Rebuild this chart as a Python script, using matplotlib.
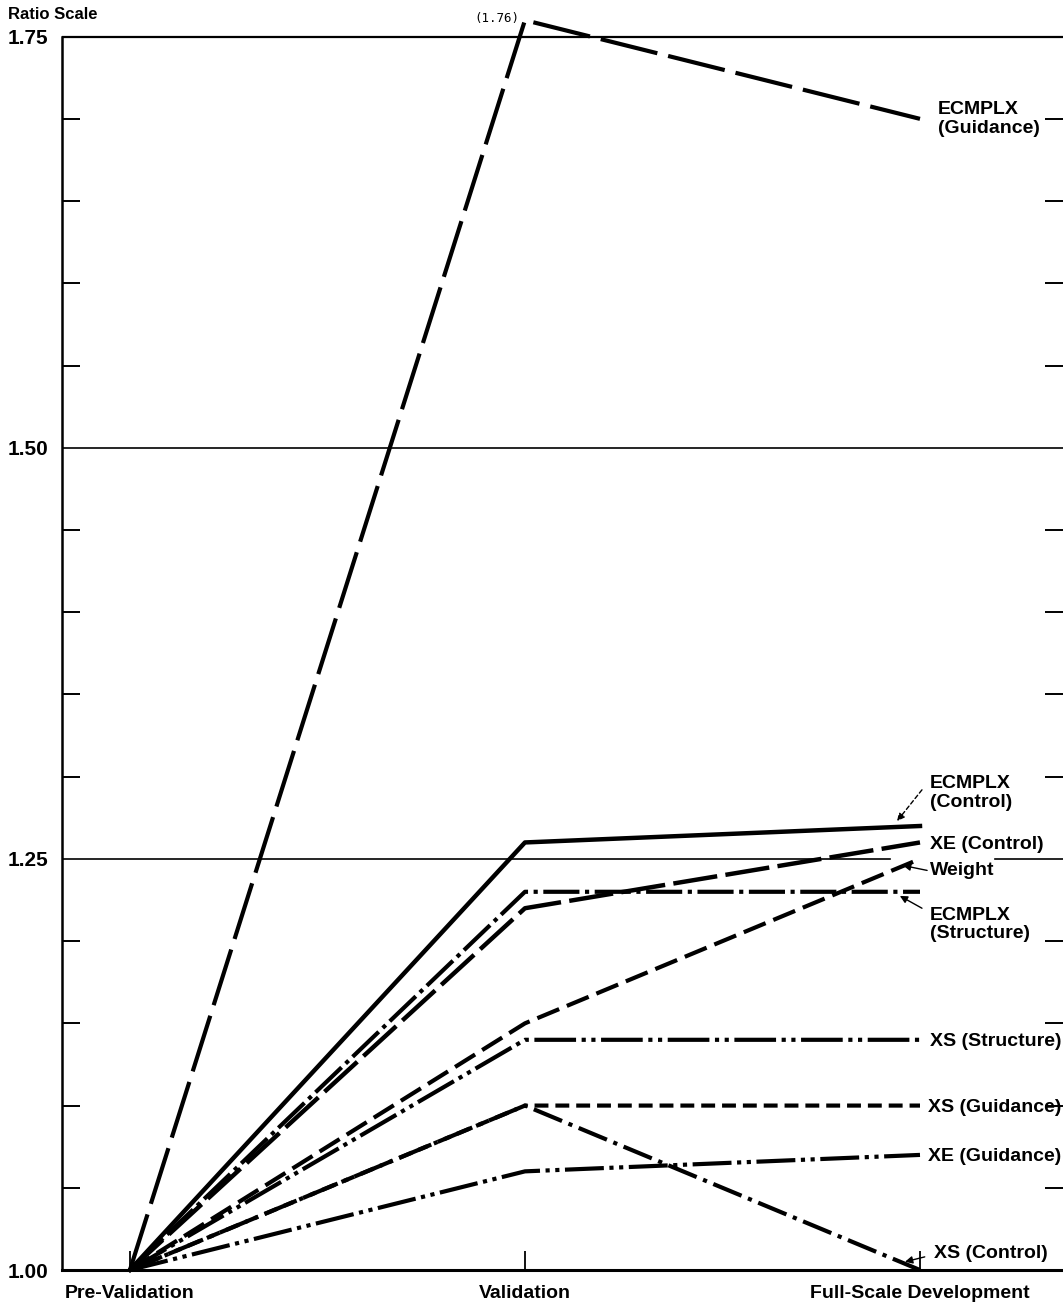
import matplotlib
matplotlib.use("Agg")
import matplotlib.pyplot as plt
from matplotlib.ticker import FixedLocator, NullFormatter

plt.rcParams['font.family'] = ['Liberation Sans', 'DejaVu Sans']
plt.rcParams['lines.scale_dashes'] = False

stages = ["Pre-Validation", "Validation", "Full-Scale Development"]

ecmplx_guidance = [1.00, 1.76, 1.70]
ecmplx_control = [1.00, 1.26, 1.27]
xe_control = [1.00, 1.22, 1.26]
weight = [1.00, 1.15, 1.25]
ecmplx_structure = [1.00, 1.23, 1.23]
xs_structure = [1.00, 1.14, 1.14]
xs_guidance = [1.00, 1.10, 1.10]
xs_control = [1.00, 1.10, 1.00]
xe_guidance = [1.00, 1.06, 1.07]

major_y = [1.00, 1.25, 1.50, 1.75]
major_y_labels = ["1.00", "1.25", "1.50", "1.75"]
minor_y = [1.05, 1.10, 1.15, 1.20, 1.30, 1.35, 1.40, 1.45,
           1.55, 1.60, 1.65, 1.70]

# series, line width, dash pattern (None = solid)
series = [
    (ecmplx_guidance, 3.0, (42, 8)),
    (ecmplx_control, 3.2, None),
    (xe_control, 3.2, (32, 6)),
    (weight, 3.0, (17, 6)),
    (ecmplx_structure, 3.0, (26, 4, 3, 4)),
    (xs_structure, 3.0, (30, 4, 3, 4, 3, 4)),
    (xs_guidance, 3.0, (10, 5)),
    (xs_control, 3.0, (22, 5, 3, 5)),
    (xe_guidance, 3.0, (28, 4, 3, 4, 3, 4)),
]

fig = plt.figure(figsize=(10.63, 13.15), dpi=100)
ax = fig.add_axes([0.0583, 0.0342, 1 - 0.0583, 0.9567])

x = list(range(len(stages)))
for vals, lw, dash in series:
    line, = ax.plot(x, vals, color="black", lw=lw, zorder=3, clip_on=False)
    if dash is not None:
        line.set_dashes(dash)

ax.set_xlim(-0.172, 2.362)
ax.set_ylim(1.00, 1.765)

# grid lines
ax.axhline(1.75, color="black", lw=1.6, zorder=2)
ax.axhline(1.50, color="black", lw=1.2, zorder=2)
ax.axhline(1.25, xmax=0.827, color="black", lw=1.2, zorder=2)
ax.axhline(1.25, xmin=0.932, color="black", lw=1.2, zorder=2)

for side in ["top", "right"]:
    ax.spines[side].set_visible(False)
ax.spines["left"].set_bounds(1.00, 1.75)
ax.spines["left"].set_linewidth(1.8)
ax.spines["bottom"].set_linewidth(2.2)

ax.set_xticks(x)
ax.set_xticklabels(stages, fontsize=14, fontweight="bold")
ax.tick_params(axis="x", direction="in", length=14, width=1.3, pad=11)

ax.yaxis.set_major_locator(FixedLocator(major_y))
ax.set_yticklabels(major_y_labels, fontsize=15, fontweight="bold")
ax.yaxis.set_minor_locator(FixedLocator(minor_y))
ax.yaxis.set_minor_formatter(NullFormatter())
ax.tick_params(axis="y", which="major", length=0, pad=10)
ax.tick_params(axis="y", which="minor", direction="in", length=13,
               width=1.4, left=True, right=True)

fig.text(0.0075, 0.989, "Ratio Scale", fontsize=12, fontweight="bold",
         va="center", ha="left")

ax.text(0.985, 1.761, "(1.76)", fontsize=9, family="DejaVu Sans Mono",
        ha="right", va="center")

lab = dict(fontsize=14, fontweight="bold", ha="left", va="center",
           linespacing=1.1)
lx = 2.025
ax.text(lx + 0.02, 1.700, "ECMPLX\n(Guidance)", **lab)
ax.text(lx, 1.290, "ECMPLX\n(Control)", **lab)
ax.text(lx, 1.259, "XE (Control)", **lab)
ax.text(lx, 1.243, "Weight", **lab)
ax.text(lx, 1.210, "ECMPLX\n(Structure)", **lab)
ax.text(lx, 1.139, "XS (Structure)", **lab)
ax.text(lx - 0.005, 1.099, "XS (Guidance)", **lab)
ax.text(lx - 0.005, 1.069, "XE (Guidance)", **lab)
ax.text(lx + 0.01, 1.010, "XS (Control)", **lab)

arrow = dict(arrowstyle="-|>", color="black", lw=1.0, mutation_scale=11,
             shrinkA=0, shrinkB=0)
ax.annotate("", xy=(1.942, 1.273), xytext=(2.005, 1.292),
            arrowprops=dict(arrow, linestyle=(0, (3, 2))))
ax.annotate("", xy=(1.957, 1.246), xytext=(2.018, 1.243), arrowprops=arrow)
ax.annotate("", xy=(1.949, 1.2275), xytext=(2.005, 1.220), arrowprops=arrow)
ax.annotate("", xy=(1.962, 1.005), xytext=(2.012, 1.008), arrowprops=arrow)

fig.savefig("out.png", dpi=100)
